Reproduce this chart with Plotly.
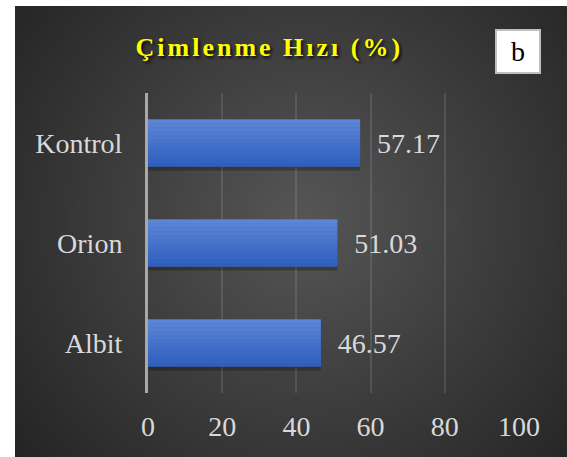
import struct, zlib, base64
import plotly.graph_objects as go

categories = ["Albit", "Orion", "Kontrol"]
values = [46.57, 51.03, 57.17]
x_ticks = [0, 20, 40, 60, 80, 100]
title_text = "Çimlenme Hızı (%)"
panel_label = "b"

SERIF = "Times New Roman"

W, H = 567, 457
L, R, T, B = 148, 48, 93, 64
pw, ph = W - L - R, H - T - B

def px_x(p):
    return (p - L) / pw

def px_y(p):
    return (H - B - p) / ph

def make_png(w, h, cx, cy, c_in, c_out):
    import math
    dmax = max(math.hypot(cx - x, cy - y) for x in (0, w) for y in (0, h))
    rows = b""
    for y in range(h):
        row = bytearray([0])
        for x in range(w):
            t = min(1.0, math.hypot(x - cx, y - cy) / dmax)
            row += bytes(int(round(c_in[k] + (c_out[k] - c_in[k]) * t)) for k in range(3))
        rows += bytes(row)
    def chunk(tag, data):
        c = struct.pack(">I", len(data)) + tag + data
        return c + struct.pack(">I", zlib.crc32(tag + data) & 0xffffffff)
    png = b"\x89PNG\r\n\x1a\n" + chunk(b"IHDR", struct.pack(">IIBBBBB", w, h, 8, 2, 0, 0, 0))
    png += chunk(b"IDAT", zlib.compress(rows, 9)) + chunk(b"IEND", b"")
    return "data:image/png;base64," + base64.b64encode(png).decode()

gw, gh = 138, 113
bg_src = make_png(gw, gh, gw * 0.52, gh * 0.47, (86, 86, 86), (36, 36, 36))

fig = go.Figure()
bw = 0.47
fig.add_trace(go.Bar(y=categories, x=values, orientation="h", width=bw,
                     offset=-bw / 2 - 0.04, marker=dict(color="rgba(0,0,0,0.25)", line_width=0),
                     hoverinfo="skip", showlegend=False))
fig.add_trace(go.Bar(y=categories, x=values, orientation="h", width=bw, offset=-bw / 2,
                     marker=dict(color="#4571cb", line_width=0),
                     text=values, texttemplate="\u00a0\u00a0%{x:.2f}", textposition="outside",
                     textfont=dict(family=SERIF, size=28, color="#d9d9d9"),
                     cliponaxis=False, showlegend=False))
N = 12
top_c, bot_c = (94, 135, 214), (45, 93, 189)
for i in range(N):
    t = (i + 0.5) / N
    col = tuple(int(round(top_c[k] + (bot_c[k] - top_c[k]) * t)) for k in range(3))
    off = bw / 2 - (i + 1) * bw / N
    fig.add_trace(go.Bar(y=categories, x=values, orientation="h", width=bw / N * 1.02, offset=off,
                         marker=dict(color="rgb(%d,%d,%d)" % col, line_width=0),
                         hoverinfo="skip", showlegend=False))

fig.update_layout(
    width=W, height=H,
    margin=dict(l=L, r=R, t=T, b=B, pad=0),
    paper_bgcolor="white", plot_bgcolor="rgba(0,0,0,0)",
    barmode="overlay",
    font=dict(family=SERIF, size=28, color="#d9d9d9"),
    xaxis=dict(range=[0, 100], tickvals=x_ticks, showgrid=True,
               gridcolor="rgba(255,255,255,0.11)", gridwidth=2, zeroline=False,
               showline=False, ticks="", ticklabelstandoff=14,
               tickfont=dict(family=SERIF, size=28, color="#d9d9d9")),
    yaxis=dict(categoryorder="array", categoryarray=categories, range=[-0.5, 2.5],
               showgrid=False, zeroline=False, showline=True, linecolor="#a8a8a8", linewidth=3,
               ticks="", ticklabelstandoff=17,
               tickfont=dict(family=SERIF, size=28, color="#d9d9d9")),
    images=[dict(source=bg_src, xref="paper", yref="paper", x=px_x(15), y=px_y(6),
                 sizex=(W - 15) / pw, sizey=(H - 6) / ph, xanchor="left", yanchor="top",
                 sizing="stretch", layer="below")],
    annotations=[
        dict(text="<b>%s</b>" % title_text, xref="paper", yref="paper", x=px_x(269), y=px_y(47),
             xanchor="center", yanchor="middle", showarrow=False,
             font=dict(family=SERIF, size=26, color="#ffff00",
                       shadow="2px 2px 3px rgba(0,0,0,0.8)")),
        dict(text=panel_label, xref="paper", yref="paper", x=px_x(518), y=px_y(51.5),
             xanchor="center", yanchor="middle", showarrow=False, width=40, height=39,
             bgcolor="white", bordercolor="#bfbfbf", borderwidth=2, borderpad=1,
             font=dict(family=SERIF, size=28, color="black")),
    ],
)

post = """
document.body.style.margin = '0';
var gd = document.getElementById('{plot_id}');
gd.querySelectorAll('.annotation-text').forEach(function(el){
  if (el.textContent.indexOf('Çimlenme') >= 0) { el.style.letterSpacing = '3px'; }
});
"""
fig.write_html("out.html", post_script=post, config={"displayModeBar": False})
